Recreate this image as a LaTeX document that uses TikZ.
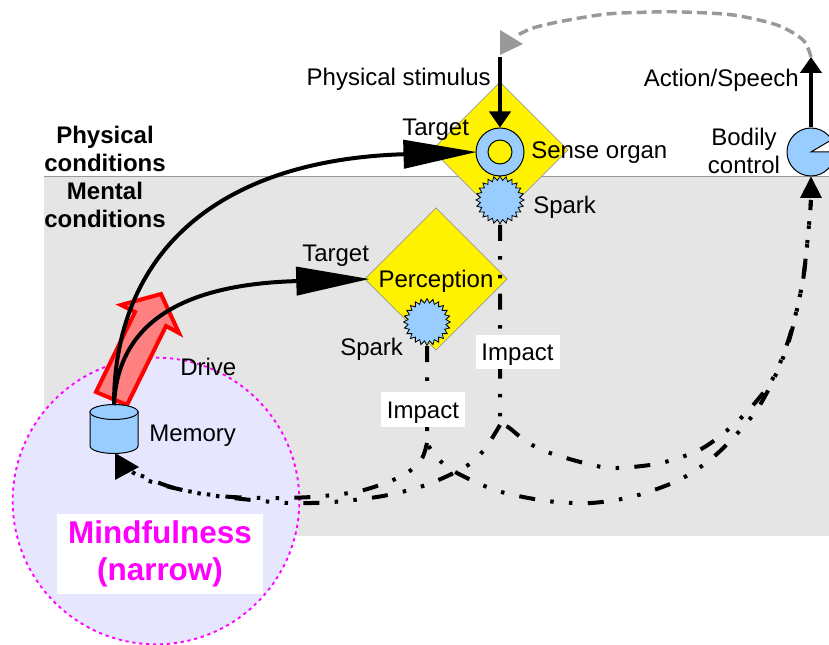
\documentclass[tikz,border=0pt]{standalone}
\usepackage{fontspec}
\setmainfont{Liberation Sans}
\usetikzlibrary{arrows.meta,shapes.geometric,shapes.misc,shapes.symbols}
\definecolor{bluefill}{HTML}{99CCFF}
\definecolor{grayarea}{HTML}{E5E5E5}
\definecolor{mindfill}{HTML}{E6E6FF}
\definecolor{redfill}{HTML}{FF8080}
\definecolor{graytip}{HTML}{999999}
\definecolor{mag}{HTML}{FF00FF}
\tikzset{
  x=0.75pt,y=-0.75pt,
  lbl/.style={inner sep=0pt,font=\fontsize{18}{21.5}\selectfont,text=black},
  boldlbl/.style={lbl,font=\fontsize{18}{21.5}\selectfont\bfseries,align=center},
  impactbox/.style={lbl,fill=white,minimum width=63pt,minimum height=26pt,text height=12.9pt,text depth=0pt},
  organ/.style={circle,draw=black,line width=0.75pt,fill=bluefill,inner sep=0pt},
  sparkshape/.style={starburst,starburst points=24,random starburst=0,starburst point height=3.2pt,draw=black,line width=0.6pt,fill=bluefill,inner sep=0pt,minimum width=36pt,minimum height=36pt},
  yellowd/.style={diamond,aspect=1,draw=graytip,line width=0.6pt,fill=yellow,inner sep=0pt},
  bigtip/.style={-{Triangle[length=55pt,width=21pt]},line width=3pt},
  smalltip/.style={-{Triangle[length=12pt,width=16pt]},line width=2.6pt},
  ddot/.style={line width=3pt,dash pattern=on 12pt off 11.5pt on 2.6pt off 11.5pt on 2.6pt off 11.5pt},
}
\begin{document}
\begin{tikzpicture}
\useasboundingbox (0,0) rectangle (829,645);
\fill[grayarea] (44,177) rectangle (829,536);
\draw[graytip,line width=0.75pt] (44,177) -- (829,177);
\node[yellowd,minimum size=102pt] (d1) at (500,150) {};
\node[yellowd,minimum size=107pt] (d2) at (436,279) {};
\node[circle,draw=mag,fill=mindfill,line width=1.4pt,dash pattern=on 2.4pt off 2.8pt,minimum size=215pt,inner sep=0pt] (mind) at (156,501) {};
\filldraw[draw=red,fill=redfill,line width=3pt,line join=miter]
  (96,392) -- (135,312) -- (121,305) -- (161,294) -- (179,333) -- (166,326) -- (127,405) -- cycle;
\node[organ,minimum size=36pt] (sense) at (500,152) {};
\node[circle,draw=black,line width=0.75pt,fill=yellow,minimum size=18pt,inner sep=0pt] (senseinner) at (500,152) {};
\node[sparkshape] (spark1) at (500,200) {};
\node[sparkshape,minimum width=35pt,minimum height=35pt] (spark2) at (427,322) {};
\node[organ,minimum size=36pt] (body) at (811,152) {};
\fill[white] (811,152) -- (835,137) -- (835,152) -- cycle;
\draw[black,line width=0.75pt] (829.5,141) -- (811,152) -- (829.5,152);
\coordinate (memtop) at (114,405);
\coordinate (stimtop) at (500,57);
\coordinate (acttop) at (811,57);
\coordinate (j1) at (500,425);
\coordinate (j2) at (427,443);
\coordinate (memtail) at (127,469);
% memory cylinder
\filldraw[draw=black,fill=bluefill,line width=0.75pt] (90,412) -- (90,446) arc[start angle=180,end angle=360,x radius=18pt,y radius=5.6pt] -- (138,412) -- cycle;
\filldraw[draw=black,fill=bluefill,line width=0.75pt] (114,412) ellipse[x radius=18pt,y radius=5.6pt];
\node[inner sep=0pt,minimum width=36pt,minimum height=36pt] (mem) at (114,429) {};
% solid arrows
\draw[bigtip] (memtop) .. controls (114,255) and (215,160) .. ([xshift=1pt]sense.west);
\draw[bigtip] (memtop) .. controls (118,315) and (195,284) .. ([xshift=4pt]d2.west);
\draw[smalltip] (stimtop) -- (sense.north);
\draw[smalltip] (body.north) -- (acttop);
% gray feedback
\draw[graytip,line width=2.6pt,dash pattern=on 7.5pt off 3.8pt] plot[smooth] coordinates {(811,57) (803,40) (777,25) (733,15) (683,12) (653,12) (607,14) (563,21) (533,28) (516,36)};
\fill[graytip] (500,30) -- (523,44) -- (500,55) -- cycle;
% impact connectors
\begin{scope}[ddot]
\draw (spark1.south) -- plot[smooth] coordinates {(j1) (508,427) (527,442) (550,453) (592,465) (617,468) (661,463) (703,448) (742,417) (772,380) (790,335) (803,280) (809,225) (811,200)};
\draw (spark2.south) -- plot[smooth] coordinates {(j2) (437,458) (457,473) (498,491) (547,501) (591,503) (635,496) (681,479) (718,453) (758,408) (786,350) (802,285) (809,225) (811,200)};
\draw (j1) -- plot[smooth] coordinates {(j1) (484,450) (465,467) (426,485) (383,496) (333,502) (289,503) (242,499) (197,493) (152,482) (memtail)};
\draw (j2) -- plot[smooth] coordinates {(j2) (421,460) (402,476) (360,491) (311,497) (263,498) (220,496) (174,488) (135,473) (memtail)};
\end{scope}
\fill (body.south) -- (822,198) -- (800,198) -- cycle;
\fill (115,453) -- (139,467) -- (115,480) -- cycle;
\node[impactbox] (imp1) at (517.5,352) {Impact};
\node[impactbox] (imp2) at (423,409.5) {Impact};
\node[lbl,anchor=east] (tstim) at (491,79) {Physical stimulus};
\node[lbl,anchor=east] (tact) at (799,80) {Action/Speech};
\node[lbl,anchor=west] (ttar1) at (402,129.5) {Target};
\node[lbl,anchor=west] (ttar2) at (302,255.5) {Target};
\node[lbl,anchor=west] (tsense) at (531,153) {Sense organ};
\node[lbl,anchor=west] (tspark1) at (533,207) {Spark};
\node[lbl,anchor=west] (tspark2) at (340,349) {Spark};
\node[lbl] (tperc) at (436,281) {Perception};
\node[lbl,align=center,anchor=center] (tbody) at (744,151) {Bodily\\control};
\node[lbl,anchor=west] (tdrive) at (180,367) {Drive};
\node[lbl,anchor=west] (tmem) at (149,436) {Memory};
\node[boldlbl] (tphys) at (105,149) {Physical\\conditions};
\node[boldlbl] (tment) at (105,205) {Mental\\conditions};
\node[fill=white,inner sep=0pt,minimum width=154.5pt,minimum height=60pt,align=center,font=\fontsize{23.6}{28}\selectfont\bfseries,text=mag] (tmind) at (160,554) {\raisebox{-2pt}{Mindfulness}\\\raisebox{-2pt}{(narrow)}};
\end{tikzpicture}
\end{document}
